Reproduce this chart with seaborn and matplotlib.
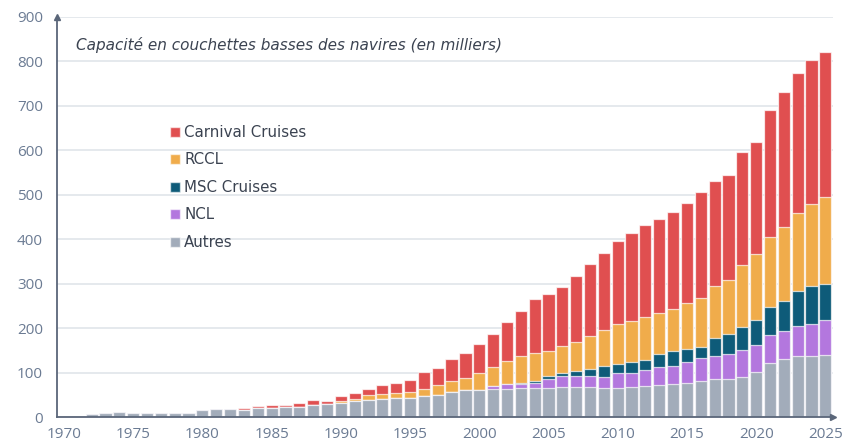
import matplotlib
matplotlib.use("Agg")
import matplotlib.pyplot as plt
from matplotlib.lines import Line2D
import seaborn as sns
import numpy as np
import pandas as pd

years = list(range(1970, 2026))

autres = [2, 1, 7, 8, 11, 10, 10, 10, 10, 10,
          15, 18, 18, 16.5, 19.5, 21, 22, 22, 26.5, 29,
          32, 36, 38, 41, 42, 43.5, 48, 50, 55.5, 60,
          60, 63, 64, 65, 66, 66, 67, 68, 67, 66,
          65, 68, 70, 71, 74, 77, 80, 86, 86, 89,
          101, 122, 131, 137, 137, 139]
ncl = [0] * 31 + [6, 11, 9, 11, 20, 25, 25, 25, 25,
                  33, 31, 35, 42, 40, 47, 52, 51, 55, 61,
                  60, 62, 63, 68, 73, 79]
msc = [0] * 33 + [3, 4, 6, 6, 10, 17, 23,
                  22, 25, 24, 28, 34, 28, 26, 40, 45, 53,
                  58, 64, 67, 79, 84, 82]
rccl = [0] * 20 + [4, 4, 11, 10.5, 12, 13.5, 14, 21, 24.5, 28,
                   38, 44, 50.5, 60, 62, 56, 61, 65, 73, 81,
                   89, 92, 97, 92, 96, 105, 109, 117, 122, 140,
                   147, 156, 167, 174, 186, 194]
carnival = [0] * 13 + [4.5, 5.5, 6.5, 6, 9, 11.5, 7.5,
                       10.5, 14.5, 14, 20.5, 21.5, 27, 39.5, 39, 51.5, 56,
                       67, 73, 88, 101, 123, 128, 134, 149, 162, 174,
                       188, 197, 206, 213, 218, 224, 240, 238, 236, 253,
                       253, 286, 303, 316, 323, 327]

series_names = ["Autres", "NCL", "MSC Cruises", "RCCL", "Carnival Cruises"]
series_vals = [autres, ncl, msc, rccl, carnival]
colors = {"Carnival Cruises": "#E04F50", "RCCL": "#F0AC4B", "MSC Cruises": "#0E5B79",
          "NCL": "#B377DE", "Autres": "#A2ACBA"}

title = "Capacité en couchettes basses des navires (en milliers)"
xticks = [1970, 1975, 1980, 1985, 1990, 1995, 2000, 2005, 2010, 2015, 2020, 2025]
yticks = [0, 100, 200, 300, 400, 500, 600, 700, 800, 900]

# cumulative table
cum = np.cumsum(np.array(series_vals, dtype=float), axis=0)
rows = []
for name, c in zip(series_names, cum):
    for y, v in zip(years, c):
        rows.append({"year": y, "serie": name, "cum": v})
df = pd.DataFrame(rows)

sns.set_theme(style="white")
plt.rcParams["font.family"] = ["Open Sans", "DejaVu Sans"]

fig = plt.figure(figsize=(8.47, 4.44), dpi=100)
ax = fig.add_axes([57 / 847, 1 - 417 / 444, 776 / 847, 400 / 444])

hue_order = ["Carnival Cruises", "RCCL", "MSC Cruises", "NCL", "Autres"]
sns.barplot(data=df, x="year", y="cum", hue="serie", hue_order=hue_order,
            palette=colors, saturation=1, dodge=False, native_scale=True, width=0.88,
            edgecolor=(1, 1, 1, 0.7), linewidth=0.9, legend=False, ax=ax, zorder=3)

ax.set_xlim(1969.5, 2025.55)
ax.set_ylim(0, 900)
ax.set_yticks(yticks)
ax.set_xticks(xticks)
tick_col = "#6B7B93"
ax.tick_params(axis="both", length=0, labelsize=11, colors=tick_col)
ax.tick_params(axis="y", pad=10)
ax.tick_params(axis="x", pad=7)
ax.set_xlabel("")
ax.set_ylabel("")
ax.yaxis.grid(True, color="#E3E7EC", linewidth=1.3, zorder=0)
ax.xaxis.grid(False)
ax.set_axisbelow(True)

for s in ["top", "right"]:
    ax.spines[s].set_visible(False)
spine_col = "#5A6679"
for s in ["left", "bottom"]:
    ax.spines[s].set_color(spine_col)
    ax.spines[s].set_linewidth(1.3)
    ax.spines[s].set_zorder(5)
ax.plot(0, 1, marker="^", color=spine_col, markersize=4.5, transform=ax.transAxes,
        clip_on=False, zorder=6)
ax.plot(1, 0, marker=">", color=spine_col, markersize=4.5, transform=ax.transAxes,
        clip_on=False, zorder=6)

ax.text(1970.9, 837, title, fontsize=11, style="italic", color="#3B4351",
        va="center", ha="left", family=["DejaVu Sans"])

handles = [Line2D([0], [0], marker="s", linestyle="none", markersize=7,
                  markerfacecolor=colors[n], markeredgecolor=(1, 1, 1, 0.6))
           for n in hue_order]
leg = ax.legend(handles, hue_order, loc="upper left", bbox_to_anchor=(0.135, 0.745),
                frameon=False, handletextpad=0.1, labelspacing=0.83,
                handlelength=1.0, borderaxespad=0,
                prop={"family": ["DejaVu Sans"], "size": 10.8})
for t in leg.get_texts():
    t.set_color("#3B4351")

fig.savefig("out.png", dpi=100)
